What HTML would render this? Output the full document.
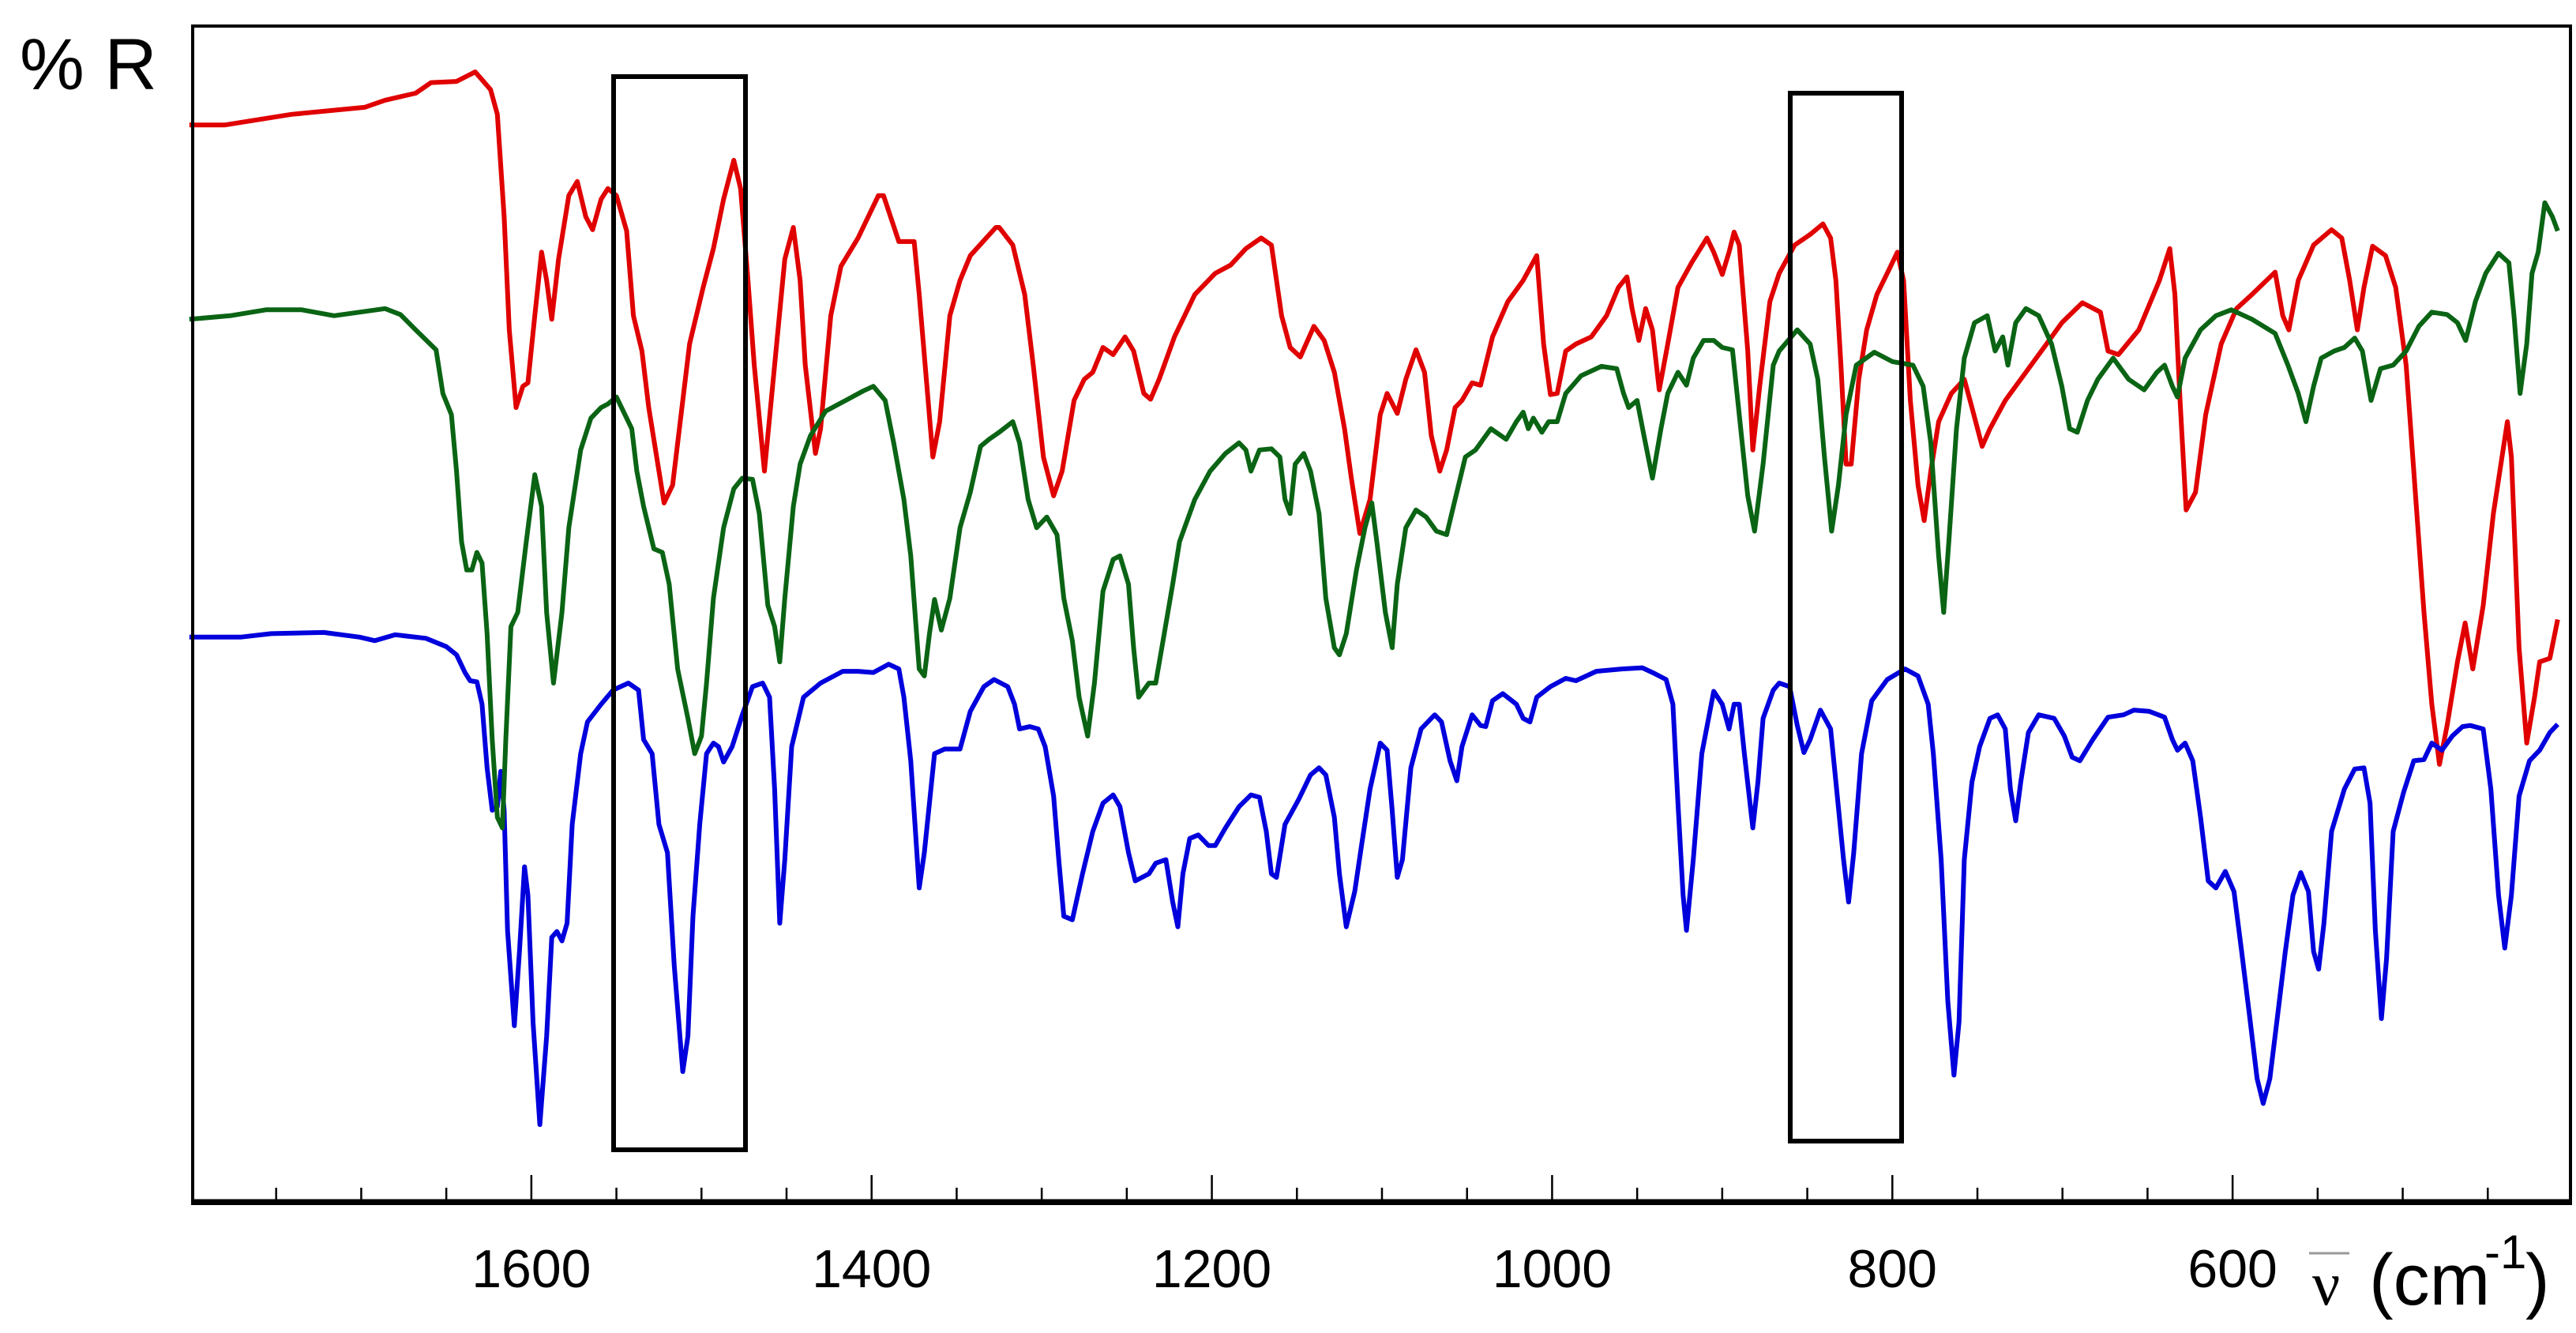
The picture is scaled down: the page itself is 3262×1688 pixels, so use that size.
<!DOCTYPE html>
<html><head><meta charset="utf-8"><title>IR reflectance spectra</title>
<style>
html,body{margin:0;padding:0;background:#fff;}
svg{display:block;}
text{font-family:"Liberation Sans",sans-serif;}
</style></head>
<body>
<svg id="chart" width="3262" height="1688" viewBox="0 0 3262 1688" xmlns="http://www.w3.org/2000/svg">
  <rect x="0" y="0" width="3262" height="1688" fill="#fff"/>
  <g id="series"></g>
  <rect x="244" y="33" width="3011" height="1491" fill="none" stroke="#000" stroke-width="4"/>
  <line x1="242" y1="1522" x2="3257" y2="1522" stroke="#000" stroke-width="7"/>
  <g id="ticks"></g>
  <g id="ticklabels"></g>
  <rect x="777" y="97" width="167" height="1359" fill="none" stroke="#000" stroke-width="6"/>
  <rect x="2267" y="118" width="141" height="1327" fill="none" stroke="#000" stroke-width="6"/>
  <text x="25" y="113" font-size="92">% R</text>
  <g>
    <line x1="2924" y1="1587" x2="2975" y2="1587" stroke="#999" stroke-width="3"/>
    <text x="2928" y="1652" font-size="78" style="font-family:'Liberation Serif',serif">ν</text>
    <text x="3000" y="1652" font-size="92">(cm</text>
    <text x="3146" y="1606" font-size="60">-1</text>
    <text x="3198" y="1652" font-size="92">)</text>
  </g>
</svg>
<script>
const redWn=[1801,1780,1741,1698,1686,1668,1659,1644,1633,1624,1620,1616,1613,1609,1605,1602,1598,1594,1591,1588,1584,1578,1573,1568,1564,1559,1555,1550,1544,1540,1535,1531,1522,1517,1507,1499,1493,1487,1481,1477,1473,1469,1463,1457,1451,1446,1442,1439,1433,1430,1424,1418,1408,1396,1393,1384,1375,1372,1364,1360,1354,1348,1342,1327,1325,1317,1310,1305,1299,1293,1288,1281,1275,1270,1264,1258,1251,1246,1240,1236,1231,1222,1210,1198,1189,1180,1171,1165,1159,1154,1148,1140,1134,1128,1122,1118,1113,1107,1101,1097,1091,1086,1080,1075,1071,1066,1062,1057,1053,1047,1042,1035,1026,1017,1009,1005,1001,997,992,986,977,968,961,956,953,949,945,941,937,932,926,918,909,905,900,896,893,890,885,882,878,872,866.5,857.4,848.3,840.8,836.3,833.2,830.2,827.2,824.2,819.7,815.1,809.1,803,797,793.4,789.4,784.9,781.3,777.4,772.8,765.3,757.7,753.2,747.2,742.6,733.6,721.5,709.4,700.4,688.3,677.7,673.2,667.1,655.1,643,636.9,633.9,630.9,627.3,621.8,615.8,606.7,597.7,588.6,575,570.5,566.9,561.4,552.4,541.8,535.8,531.2,526.7,522.8,517.7,510.1,504.1,498,493.5,487.5,482.9,478.4,473.9,467.8,463.3,458.8,452.7,446.7,438.5,436.1,431.6,427.1,422.5,419.5,413.5,408.9];
const redR=[91.6,91.6,92.5,93.1,93.7,94.3,95.2,95.3,96.1,94.6,92.5,83.8,74.2,67.6,69.4,69.7,75.4,80.8,78.4,75.1,80.2,85.6,86.8,83.8,82.7,85.3,86.2,85.6,82.6,75.4,72.4,67.6,59.5,61.0,73.0,77.8,81.1,85.3,88.6,86.2,79.0,71.2,62.2,71.2,80.2,82.9,78.4,71.2,63.7,65.8,75.4,79.6,82.0,85.6,85.6,81.7,81.7,77.2,63.4,66.4,75.4,78.4,80.5,82.9,82.9,81.4,77.2,71.2,63.4,60.1,62.2,68.2,70.0,70.6,72.7,72.1,73.6,72.4,68.8,68.3,70.0,73.6,77.2,79.0,79.7,81.1,82.0,81.4,75.4,72.7,71.9,74.5,73.3,70.6,65.8,61.6,56.9,59.8,67.0,68.8,67.1,70.0,72.5,70.6,65.2,62.2,64.0,67.6,68.2,69.7,69.5,73.6,76.6,78.4,80.5,73.0,68.7,68.8,72.4,73.0,73.6,75.4,77.8,78.7,76.0,73.3,76.0,74.2,69.1,73.0,77.8,79.9,82.0,80.8,78.9,80.8,82.5,81.4,72.4,64.0,69.4,76.6,79.0,81.4,82.3,83.2,82.0,78.4,71.2,62.8,62.8,70.0,74.2,77.2,79.0,80.8,78.4,68.2,61.0,58.0,62.2,66.4,68.8,70.0,67.6,64.3,65.8,68.2,70.6,73.0,74.8,76.5,75.7,72.4,72.1,74.2,78.4,81.1,77.2,68.2,58.9,60.4,67.0,73.0,76.0,77.2,79.1,75.4,74.2,78.4,81.4,82.7,82.0,78.4,74.2,77.8,81.3,80.5,77.8,71.2,62.2,50.2,42.4,37.3,40.6,46.0,49.3,45.4,50.8,58.6,66.4,63.4,47.2,39.1,43.0,46.0,46.3,49.6];

const greenWn=[1801,1777,1756,1735,1716,1686,1677,1668,1656,1652,1647,1644,1641,1638,1635,1632,1629,1626,1623,1620,1617,1615,1612,1608,1603,1598,1594,1591,1587,1582,1578,1571,1565,1559,1555,1550,1546,1541,1538,1534,1528,1523,1519,1514,1508,1504,1500,1497,1493,1487,1481,1476,1470,1466,1461,1457,1454,1451,1446,1442,1436,1427,1414,1405,1399,1392,1387,1381,1377,1372,1369,1366,1363,1359,1354,1348,1342,1336,1331,1325,1317,1313,1308,1303,1297,1291,1287,1282,1278,1273,1269,1264,1258,1254,1249,1246,1243,1237,1233,1228,1223,1219,1210,1201,1192,1184,1180,1177,1172,1165,1160,1157,1154,1151,1146,1142,1137,1133,1128,1125,1121,1115,1110,1106,1103,1098,1094,1091,1086,1080,1074,1068,1062,1057,1051,1045,1036,1027,1021,1017,1014,1011,1006,1002,997,992,983,971,962,958,955,950,946,941,936,932,926,921,917,911,905,900,894,890,885,881,876,870,866.5,855.9,848.3,843.8,839.9,835.7,831.7,827.2,821.2,810.6,800,787.9,781.9,777.4,772.8,769.8,766.8,762.3,757.7,751.7,744.2,739.6,735.1,732.1,727.5,721.5,714,706.4,700.4,695.8,691.3,685.3,679.2,670.2,661.1,652,644.5,640,635.4,632.4,627.9,618.8,609.8,600.7,588.6,575,567.5,561.4,556.9,552.4,547.9,540.3,534.3,528.2,523.7,518.6,513.1,505.6,498,490.5,482.9,473.9,467.8,463,457.3,451.2,443.7,437.6,434.6,431,427.1,424,420.4,416.5,412,408.9];
const greenR=[75.1,75.4,75.9,75.9,75.4,76.0,75.5,74.2,72.5,68.8,67.0,62.2,56.2,53.8,53.8,55.3,54.4,48.4,39.4,32.8,31.9,39.4,49.0,50.2,56.2,61.9,59.2,50.2,44.2,50.2,57.4,64.0,66.7,67.6,67.9,68.5,67.3,65.8,62.2,59.2,55.6,55.3,52.6,45.4,41.2,38.2,39.7,44.2,51.4,57.4,60.7,61.6,61.5,58.6,50.8,49.0,46.0,51.4,59.2,62.8,65.2,67.3,68.3,69.0,69.4,68.2,64.6,59.8,55.0,45.4,44.8,48.4,51.3,48.7,51.4,57.4,60.4,64.3,64.9,65.5,66.4,64.6,59.8,57.4,58.3,56.8,51.4,47.8,43.0,39.7,44.2,52.0,54.7,55.0,52.6,47.2,43.0,44.2,44.2,48.4,52.6,56.2,59.8,62.2,63.7,64.6,64.0,62.2,64.0,64.1,63.4,59.8,58.6,62.8,63.7,62.2,58.6,51.4,47.2,46.6,48.4,53.8,57.4,59.5,56.2,50.2,47.2,52.6,57.4,58.9,58.3,57.1,56.8,59.8,63.4,64.0,65.8,64.9,66.4,67.2,65.8,66.7,65.5,66.4,66.4,68.8,70.3,71.1,70.9,68.8,67.6,68.2,65.2,61.6,65.8,68.8,70.6,69.5,71.8,73.3,73.3,72.7,72.5,67.0,60.1,57.1,62.8,71.2,72.4,74.2,73.0,70.0,63.4,57.1,61.0,67.0,71.2,72.3,71.5,71.2,69.4,64.6,55.0,50.2,56.2,65.8,71.8,74.8,75.4,72.4,73.6,71.2,74.8,76.0,75.4,73.0,69.4,65.8,65.5,68.2,70.0,71.8,70.0,69.1,70.6,71.2,69.4,68.5,71.8,74.2,75.4,75.9,75.1,73.9,71.2,68.8,66.4,69.4,71.8,72.4,72.7,73.5,72.4,68.2,70.9,71.2,72.4,74.5,75.7,75.5,74.8,73.3,76.6,79.0,80.7,79.9,75.4,68.8,73.0,79.0,80.8,85.0,83.8,82.6];

const blueWn=[1801,1771,1753,1722,1701,1692,1680,1662,1650,1644,1639,1636,1632,1629,1626,1623,1620,1618,1616,1614,1610,1607,1604,1602,1599,1595,1591,1588,1585,1582,1579,1576,1571,1567,1559,1552,1543,1537,1534,1529,1525,1520,1516,1511,1508,1505,1501,1497,1493,1490,1487,1482,1476,1470,1464,1460,1457,1454,1451,1447,1440,1430,1417,1408,1399,1390,1384,1381,1377,1372,1369,1363,1357,1348,1342,1334,1328,1320,1316,1313,1307,1302,1298,1293,1290,1287,1282,1276,1270,1264,1258,1254,1249,1245,1237,1233,1227,1223,1220,1217,1213,1208,1202,1198,1192,1184,1177,1172,1168,1165,1162,1157,1149,1142,1137,1133,1128,1125,1121,1116,1112,1107,1101,1097,1094,1091,1088,1083,1077,1069,1065,1060,1056,1053,1047,1042,1039,1035,1029,1021,1017,1013,1009,1001,992,986,974,959,947,941,933,929,926,923,921,917,912,905,900,896,893,890,887,882,879,876,870,866.5,860.4,855.9,852,848.3,842.3,836.3,833.2,828.7,825.7,822.7,818.1,812.1,803,792.5,784.9,778.9,775.9,771.3,767.4,763.8,760.8,757.7,753.2,748.7,742.6,738.1,733.6,730.6,727.5,724.5,720,714,704.9,698.9,694.3,689.8,682.2,673.2,664.1,658.1,649,640,635.4,632.4,627.9,623.4,618.8,614.3,609.8,604.3,599.2,594.7,590.1,585.6,582,578.1,573.5,569,564.5,559.9,555.4,552.4,549.4,546.3,541.8,534.3,528.2,522.8,519.2,516.1,512.5,509.5,505.6,499.5,493.5,487.5,482.9,476.9,470.9,464.8,460.3,452.7,448.2,443.7,440,436.1,431.6,425.5,419.5,413.5,408.9];
const blueR=[48.1,48.1,48.4,48.5,48.1,47.8,48.3,48.0,47.3,46.6,45.1,44.4,44.3,42.4,37.0,33.4,33.7,36.7,33.4,23.2,15.1,21.4,28.6,26.2,15.4,6.7,14.2,22.6,23.1,22.3,23.8,32.2,38.2,40.9,42.4,43.6,44.2,43.6,39.4,38.2,32.2,29.8,20.2,11.2,14.2,24.4,32.2,38.2,39.1,38.8,37.5,38.8,41.5,43.9,44.2,43.0,35.2,23.8,29.2,38.8,43.0,44.2,45.2,45.2,45.1,45.8,45.4,43.0,37.6,26.8,29.8,38.2,38.6,38.6,41.8,43.9,44.5,43.9,42.4,40.3,40.5,40.3,38.8,34.6,29.2,24.4,24.1,28.0,31.6,34.0,34.7,33.7,29.8,27.4,28.0,28.9,29.2,25.6,23.5,28.0,31.0,31.3,30.4,30.4,31.9,33.7,34.7,34.5,31.6,28.0,27.7,32.2,34.3,36.4,37.0,36.4,32.8,28.0,23.5,26.5,30.4,35.2,39.1,38.5,33.4,27.7,29.2,37.0,40.3,41.5,40.9,37.6,35.9,38.8,41.5,40.6,40.5,42.7,43.3,42.4,41.2,40.9,43.0,43.9,44.6,44.4,45.2,45.4,45.5,45.1,44.5,42.4,34.0,26.2,23.2,29.2,38.2,43.5,42.4,40.3,42.4,42.4,38.2,31.9,35.8,41.2,43.6,44.2,43.9,40.6,38.3,39.4,41.9,40.3,35.8,29.2,25.6,29.8,38.2,42.7,44.5,45.4,44.8,42.4,38.2,29.2,17.2,10.9,15.4,29.2,35.8,38.8,41.2,41.5,40.3,35.2,32.5,35.8,40.0,41.5,41.2,39.7,37.9,37.6,39.4,41.3,41.5,41.9,41.8,41.3,39.4,38.5,39.1,37.6,32.8,27.4,26.8,28.2,26.5,21.4,16.0,10.6,8.5,10.6,16.0,21.4,26.2,28.1,26.5,21.4,19.9,23.8,31.6,35.2,36.9,37.0,34.0,23.2,15.7,20.8,31.6,34.9,37.6,37.7,39.1,38.5,39.7,40.5,40.6,40.3,35.2,26.2,21.7,26.2,34.6,37.6,38.5,40.0,40.7];

const tickValues=[1750,1700,1650,1600,1550,1500,1450,1400,1350,1300,1250,1200,1150,1100,1050,1000,950,900,850,800,750,700,650,600,550,500,450];
const tickLabels=["1600","1400","1200","1000","800","600"];

const X0=1800, X1=400, PX0=242, PX1=3258;
const PY0=1524, PY1=33;
function xScale(wn){return PX0+(X0-wn)/(X0-X1)*(PX1-PX0);}
function yScale(r){return PY0-r/100*(PY0-PY1);}
const NS="http://www.w3.org/2000/svg";

function drawSeries(wn,vals,color,name){
  let d="";
  for(let i=0;i<wn.length;i++){
    d+=(i?"L":"M")+xScale(wn[i]).toFixed(1)+","+yScale(vals[i]).toFixed(1);
  }
  const p=document.createElementNS(NS,"path");
  p.setAttribute("d",d);
  p.setAttribute("fill","none");
  p.setAttribute("stroke",color);
  p.setAttribute("stroke-width","6");
  p.setAttribute("stroke-linejoin","round");
  
  
  document.getElementById("series").appendChild(p);
}
drawSeries(redWn,redR,"#e00000","spectrum-red");
drawSeries(blueWn,blueR,"#0000dd","spectrum-blue");
drawSeries(greenWn,greenR,"#0a6414","spectrum-green");

const tg=document.getElementById("ticks");
tickValues.forEach(function(v){
  const major=(v%200===0);
  const l=document.createElementNS(NS,"line");
  const x=xScale(v);
  l.setAttribute("x1",x);l.setAttribute("x2",x);
  l.setAttribute("y1",1520);l.setAttribute("y2",major?1488:1504);
  l.setAttribute("stroke","#000");l.setAttribute("stroke-width","2.5");
  
  
  tg.appendChild(l);
});
const lg=document.getElementById("ticklabels");
tickLabels.forEach(function(s){
  const t=document.createElementNS(NS,"text");
  t.setAttribute("x",xScale(parseFloat(s)));
  t.setAttribute("y",1630);
  t.setAttribute("font-size","68");
  t.setAttribute("text-anchor","middle");
  t.textContent=s;
  
  
  lg.appendChild(t);
});
</script>
</body></html>
